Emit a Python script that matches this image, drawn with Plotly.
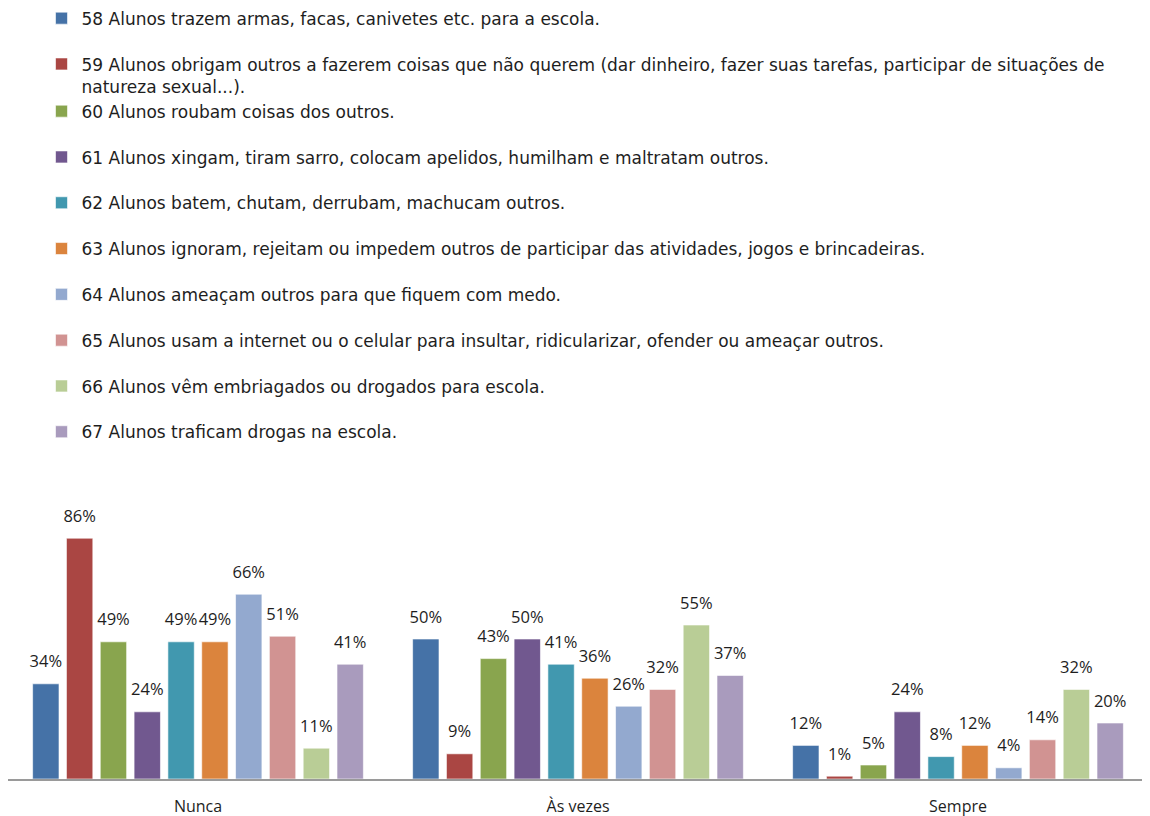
import plotly.graph_objects as go

categories = ["Nunca", "Às vezes", "Sempre"]
series_names = [
    "58 Alunos trazem armas, facas, canivetes etc. para a escola.",
    "59 Alunos obrigam outros a fazerem coisas que não querem (dar dinheiro, fazer suas tarefas, participar de situações de<br>natureza sexual...).",
    "60 Alunos roubam coisas dos outros.",
    "61 Alunos xingam, tiram sarro, colocam apelidos, humilham e maltratam outros.",
    "62 Alunos batem, chutam, derrubam, machucam outros.",
    "63 Alunos ignoram, rejeitam ou impedem outros de participar das atividades, jogos e brincadeiras.",
    "64 Alunos ameaçam outros para que fiquem com medo.",
    "65 Alunos usam a internet ou o celular para insultar, ridicularizar, ofender ou ameaçar outros.",
    "66 Alunos vêm embriagados ou drogados para escola.",
    "67 Alunos traficam drogas na escola.",
]
values_58 = [34, 50, 12]
values_59 = [86, 9, 1]
values_60 = [49, 43, 5]
values_61 = [24, 50, 24]
values_62 = [49, 41, 8]
values_63 = [49, 36, 12]
values_64 = [66, 26, 4]
values_65 = [51, 32, 14]
values_66 = [11, 55, 32]
values_67 = [41, 37, 20]
all_values = [values_58, values_59, values_60, values_61, values_62,
              values_63, values_64, values_65, values_66, values_67]
colors = ["#4572A7", "#AA4643", "#89A54E", "#71588F", "#4198AF",
          "#DB843D", "#93A9CF", "#D19392", "#B9CD96", "#A99BBD"]
# legend groups: the two-line entry (59) shares a group with 60 so no gap follows it
legend_groups = ["g58", "g59", "g59", "g61", "g62", "g63", "g64", "g65", "g66", "g67"]

FONT = "'Open Sans', sans-serif"
LEGEND_FONT = "'DejaVu Sans', sans-serif"
TEXT_COLOR = "#1e1e1e"
LABEL_LIFT = 3  # extra gap (in % units) between bar top and its label

fig = go.Figure()
for i, (name, vals, col, grp) in enumerate(zip(series_names, all_values, colors, legend_groups)):
    fig.add_trace(go.Bar(
        x=categories, y=vals, name=name, offsetgroup=str(i), legendgroup=grp,
        marker=dict(color=col, line=dict(color="rgba(255,255,255,0.6)", width=1)),
    ))
for i, vals in enumerate(all_values):
    fig.add_trace(go.Bar(
        x=categories, y=[LABEL_LIFT] * len(vals), base=vals, offsetgroup=str(i),
        marker=dict(color="rgba(0,0,0,0)", line=dict(width=0)),
        text=[f"{v}%" for v in vals],
        textposition="outside",
        textfont=dict(family=FONT, size=16.5, color=TEXT_COLOR),
        constraintext="none", cliponaxis=False,
        showlegend=False, hoverinfo="skip",
    ))

fig.update_layout(
    width=1150, height=816,
    paper_bgcolor="white", plot_bgcolor="white",
    margin=dict(l=0, r=10, t=491, b=45, autoexpand=False),
    barmode="group", bargap=0.11, bargroupgap=0.22,
    font=dict(family=FONT, size=17, color=TEXT_COLOR),
    showlegend=True,
    legend=dict(
        x=0.0294, xanchor="left", xref="paper",
        y=2.78, yanchor="top", yref="paper",
        font=dict(family=LEGEND_FONT, size=17, color=TEXT_COLOR),
        valign="top", tracegroupgap=20.7, maxheight=900,
        groupclick="toggleitem",
        bgcolor="rgba(0,0,0,0)",
    ),
    xaxis=dict(showline=True, linecolor="#9a9a9a", linewidth=1.5,
               ticks="", ticklabelstandoff=12,
               tickfont=dict(family=FONT, size=16, color=TEXT_COLOR)),
    yaxis=dict(visible=False, range=[0, 100]),
)
fig.write_html("out.html")
